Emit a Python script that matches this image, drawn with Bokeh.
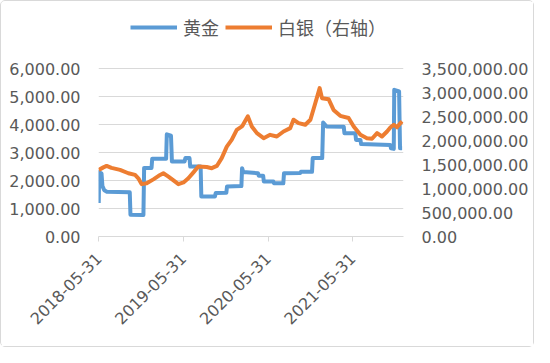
import math
import pandas as pd
from bokeh.plotting import figure
from bokeh.models import (Range1d, LinearAxis, FixedTicker,
                          NumeralTickFormatter, DatetimeTickFormatter, Legend, LegendItem)
from bokeh.embed import file_html
from bokeh.resources import INLINE

series_names = ["黄金", "白银（右轴）"]
tick_dates = ["2018-05-31", "2019-05-31", "2020-05-31", "2021-05-31"]
left_ticks = [0, 1000, 2000, 3000, 4000, 5000, 6000]
right_ticks = [0, 500000, 1000000, 1500000, 2000000, 2500000, 3000000, 3500000]

gold_dates = [
    "2018-05-31", "2018-06-02", "2018-06-12", "2018-06-16", "2018-06-24", "2018-07-05",
    "2018-10-12", "2018-10-15", "2018-12-10", "2018-12-13", "2019-01-14", "2019-01-17",
    "2019-03-18", "2019-03-21", "2019-04-08", "2019-04-12", "2019-06-06", "2019-06-09",
    "2019-06-27", "2019-06-30", "2019-08-14", "2019-08-17", "2019-10-15", "2019-10-18",
    "2019-12-03", "2019-12-06", "2020-02-06", "2020-02-09", "2020-02-14", "2020-04-18",
    "2020-04-21", "2020-05-10", "2020-05-13", "2020-06-23", "2020-06-26", "2020-08-05",
    "2020-08-08", "2020-10-17", "2020-10-20", "2020-12-07", "2020-12-10", "2021-01-20",
    "2021-01-24", "2021-02-08", "2021-04-23", "2021-04-26", "2021-06-12", "2021-06-15",
    "2021-07-04", "2021-07-07", "2021-11-10", "2021-11-13", "2021-11-25", "2021-11-27",
    "2021-12-18", "2021-12-22", "2021-12-31",
]
gold_values = [
    1200, 2300, 2250, 1800, 1650, 1600,
    1580, 780, 770, 2450, 2450, 2780,
    2780, 3650, 3600, 2680, 2680, 2800,
    2800, 2500, 2500, 1430, 1430, 1550,
    1560, 1790, 1800, 2440, 2300, 2260,
    2170, 2170, 1960, 1960, 1900, 1900,
    2260, 2270, 2310, 2310, 2800, 2800,
    4070, 3930, 3920, 3690, 3690, 3450,
    3450, 3300, 3270, 3150, 3130, 5240,
    5180, 3150, 3150,
]

silver_dates = [
    "2018-05-31", "2018-06-20", "2018-07-04", "2018-07-25", "2018-08-31", "2018-10-06",
    "2018-11-04", "2018-11-18", "2018-12-02", "2018-12-24", "2019-01-22", "2019-02-20",
    "2019-03-06", "2019-03-28", "2019-04-26", "2019-05-10", "2019-06-01", "2019-06-22",
    "2019-07-14", "2019-08-04", "2019-09-09", "2019-10-01", "2019-10-23", "2019-11-13",
    "2019-12-05", "2019-12-26", "2020-01-17", "2020-02-10", "2020-03-05", "2020-03-22",
    "2020-04-13", "2020-05-12", "2020-06-09", "2020-07-08", "2020-08-06", "2020-09-04",
    "2020-09-18", "2020-10-10", "2020-11-08", "2020-11-30", "2020-12-21", "2021-01-09",
    "2021-01-19", "2021-02-17", "2021-03-10", "2021-04-08", "2021-05-14", "2021-06-05",
    "2021-07-04", "2021-08-01", "2021-08-23", "2021-09-14", "2021-10-05", "2021-10-27",
    "2021-11-11", "2021-11-25", "2021-12-09", "2021-12-24", "2021-12-31",
]
silver_values = [
    1388000, 1440000, 1470000, 1429000, 1388000, 1318000,
    1283000, 1213000, 1091000, 1108000, 1190000, 1283000,
    1318000, 1248000, 1143000, 1091000, 1126000, 1213000,
    1336000, 1458000, 1447000, 1423000, 1470000, 1633000,
    1873000, 2013000, 2223000, 2300000, 2503000, 2293000,
    2153000, 2048000, 2118000, 2083000, 2188000, 2258000,
    2433000, 2363000, 2328000, 2433000, 2777000, 3092000,
    2882000, 2858000, 2637000, 2514000, 2468000, 2293000,
    2118000, 2048000, 2036000, 2153000, 2083000, 2188000,
    2275000, 2328000, 2275000, 2363000, 2398000,
]

gd = pd.to_datetime(gold_dates)
sd = pd.to_datetime(silver_dates)
ticks_ms = [pd.Timestamp(d).value / 1e6 for d in tick_dates]

LABEL_COLOR = "#595959"
GRID_COLOR = "#d9d9d9"
FONT = "DejaVu Sans"

# frame extends above the top gridline so the legend can sit inside it
FRAME_TOP, FRAME_BOTTOM, AXIS_TOP_PX = 4, 235, 67
head = (FRAME_BOTTOM - FRAME_TOP) / (FRAME_BOTTOM - AXIS_TOP_PX)

p = figure(width=534, height=347, x_axis_type="datetime", output_backend="svg",
           toolbar_location=None,
           x_range=Range1d(pd.Timestamp("2018-05-30"), pd.Timestamp("2022-01-06")),
           y_range=Range1d(0, left_ticks[-1] * head),
           min_border_left=97, min_border_right=132, min_border_top=FRAME_TOP,
           min_border_bottom=347 - FRAME_BOTTOM)
p.extra_y_ranges = {"silver": Range1d(0, right_ticks[-1] * head)}
p.outline_line_color = None
p.background_fill_color = "white"
p.border_fill_color = "white"
p.styles = {"border": "1px solid #d9d9d9", "border-radius": "5px", "box-sizing": "border-box"}

r_gold = p.line(gd, gold_values, line_color="#5B9BD5", line_width=4, line_join="round")
r_silver = p.line(sd, silver_values, y_range_name="silver", line_color="#ED7D31",
                  line_width=4, line_join="round")

p.xgrid.grid_line_color = None
p.ygrid.grid_line_color = GRID_COLOR

ya = p.yaxis[0]
ya.ticker = FixedTicker(ticks=left_ticks)
ya.formatter = NumeralTickFormatter(format="0,0.00")
ya.axis_line_color = None
ya.major_tick_line_color = None
ya.minor_tick_line_color = None
ya.major_label_text_font = FONT
ya.major_label_text_font_size = "16px"
ya.major_label_text_color = LABEL_COLOR
ya.major_label_standoff = 12

ra = LinearAxis(y_range_name="silver", ticker=FixedTicker(ticks=right_ticks),
                formatter=NumeralTickFormatter(format="0,0.00"))
ra.axis_line_color = None
ra.major_tick_line_color = None
ra.minor_tick_line_color = None
ra.major_label_text_font = FONT
ra.major_label_text_font_size = "16px"
ra.major_label_text_color = LABEL_COLOR
ra.major_label_standoff = 12
p.add_layout(ra, "right")

xa = p.xaxis[0]
xa.ticker = FixedTicker(ticks=ticks_ms)
fmt = "%Y-%m-%d"
xa.formatter = DatetimeTickFormatter(milliseconds=fmt, seconds=fmt, minsec=fmt, minutes=fmt,
                                     hourmin=fmt, hours=fmt, days=fmt, months=fmt, years=fmt)
xa.axis_line_color = GRID_COLOR
xa.major_tick_line_color = GRID_COLOR
xa.major_tick_out = 5
xa.major_tick_in = 0
xa.minor_tick_line_color = None
xa.major_label_orientation = math.pi / 4
xa.major_label_text_font = FONT
xa.major_label_text_font_size = "16px"
xa.major_label_text_color = LABEL_COLOR
xa.major_label_standoff = 14

legend = Legend(items=[LegendItem(label=series_names[0], renderers=[r_gold]),
                       LegendItem(label=series_names[1], renderers=[r_silver])],
                orientation="horizontal", location=(32, 196),
                glyph_width=47, glyph_height=20, label_standoff=6, spacing=6,
                padding=0, margin=0, border_line_color=None, background_fill_alpha=0,
                label_text_font="Noto Sans CJK SC", label_text_font_size="18px",
                label_text_color=LABEL_COLOR, label_height=20)
p.add_layout(legend, "center")

open("out.html", "w").write(file_html(p, INLINE))
